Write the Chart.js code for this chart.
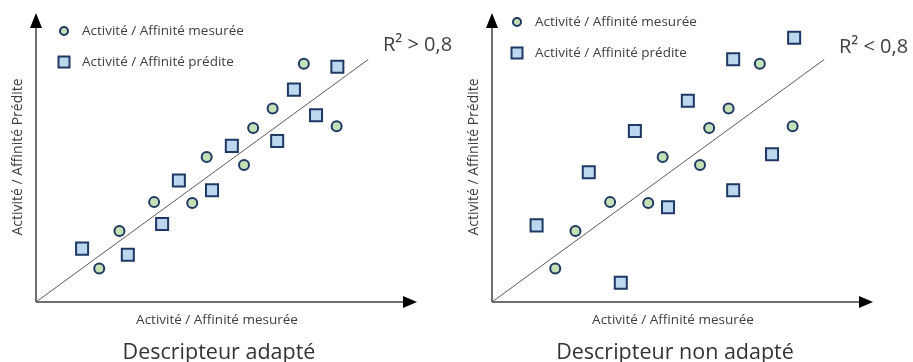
<!DOCTYPE html>
<html>
<head>
<meta charset="utf-8">
<script src="https://cdn.jsdelivr.net/npm/chart.js@4.4.0/dist/chart.umd.min.js"></script>
<style>
  body { margin: 0; background: #fff; }
  .row { display: flex; width: 913px; height: 362px; }
  .panel { position: relative; height: 362px; }
</style>
</head>
<body>
<div class="row">
  <div class="panel" style="width:456px"><canvas id="adapte"></canvas></div>
  <div class="panel" style="width:457px"><canvas id="nonAdapte"></canvas></div>
</div>
<script>
// measured activity (same in both panels)
var mesureX = [16.6, 21.9, 31.0, 41.0, 44.8, 54.6, 57.0, 62.1, 70.3, 78.9];
var mesureY = [11.7, 24.7, 34.8, 34.5, 50.5, 47.7, 60.6, 67.4, 83.0, 61.2];

// predicted activity, good descriptor
var predAdX = [12.1, 24.1, 33.1, 37.5, 46.2, 51.4, 63.3, 67.7, 73.5, 79.1];
var predAdY = [18.6, 16.5, 27.2, 42.3, 38.9, 54.4, 56.1, 74.0, 65.1, 82.0];

// predicted activity, bad descriptor
var predNonX = [11.7, 25.4, 33.8, 37.5, 46.2, 51.4, 63.3, 63.3, 73.5, 79.3];
var predNonY = [26.7, 45.2, 6.7, 59.6, 33.0, 70.1, 84.6, 38.9, 51.5, 92.1];

var droiteX = [0, 87.2];
var droiteY = [0, 84.5];

var legendeLabels = ['Activité / Affinité mesurée', 'Activité / Affinité prédite'];
var axeX = 'Activité / Affinité mesurée';
var axeY = 'Activité / Affinité Prédite';

function pts(xs, ys) {
    return xs.map(function (x, i) { return {x: x, y: ys[i]}; });
}

var police = '"Open Sans", sans-serif';
var gris = '#404040';
var vert = '#c5e0b4';
var bleu = '#bdd7ee';
var marine = '#1f3864';

function decor(r2, caption, legY, legX) {
    return {
        id: 'decor',
        beforeDatasetsDraw: function (chart) {
            var ctx = chart.ctx, a = chart.chartArea;
            ctx.save();
            ctx.strokeStyle = gris;
            ctx.fillStyle = '#000';
            ctx.lineWidth = 1.5;
            ctx.beginPath();
            ctx.moveTo(a.left, a.bottom);
            ctx.lineTo(a.right - 8, a.bottom);
            ctx.moveTo(a.left, a.bottom);
            ctx.lineTo(a.left, a.top + 8);
            ctx.stroke();
            // arrow heads
            ctx.beginPath();
            ctx.moveTo(a.right, a.bottom);
            ctx.lineTo(a.right - 14, a.bottom - 6);
            ctx.lineTo(a.right - 14, a.bottom + 6);
            ctx.closePath();
            ctx.fill();
            ctx.beginPath();
            ctx.moveTo(a.left, a.top - 2);
            ctx.lineTo(a.left - 6, a.top + 13);
            ctx.lineTo(a.left + 6, a.top + 13);
            ctx.closePath();
            ctx.fill();
            ctx.restore();
        },
        afterDraw: function (chart) {
            var ctx = chart.ctx;
            ctx.save();
            ctx.fillStyle = gris;
            ctx.textBaseline = 'middle';
            // legend
            ctx.font = '13.5px ' + police;
            ctx.textAlign = 'left';
            ctx.beginPath();
            ctx.arc(legX, legY, 4, 0, Math.PI * 2);
            ctx.fillStyle = vert; ctx.fill();
            ctx.lineWidth = 2; ctx.strokeStyle = marine; ctx.stroke();
            ctx.fillStyle = bleu;
            ctx.fillRect(legX - 5.5, legY + 31 - 5.5, 11, 11);
            ctx.strokeRect(legX - 5.5, legY + 31 - 5.5, 11, 11);
            ctx.fillStyle = gris;
            ctx.fillText(legendeLabels[0], legX + 18, legY);
            ctx.fillText(legendeLabels[1], legX + 18, legY + 31);
            // R2
            ctx.font = '20px ' + police;
            ctx.fillText(r2, 383, r2 === 'R² > 0,8' ? 45 : 47);
            // axis titles
            ctx.font = '13.5px ' + police;
            ctx.textAlign = 'center';
            ctx.fillText(axeX, 217, 320);
            ctx.save();
            ctx.translate(18, 157);
            ctx.rotate(-Math.PI / 2);
            ctx.font = '14px ' + police;
            ctx.fillText(axeY, 0, 0);
            ctx.restore();
            // caption
            ctx.font = '21.5px ' + police;
            ctx.fillStyle = '#333';
            ctx.fillText(caption, 219, 353);
            ctx.restore();
        }
    };
}

function graphe(id, predX, predY, r2, caption, legY, legX, rightPad) {
    return new Chart(document.getElementById(id), {
        data: {
            datasets: [{
                type: 'line',
                label: 'R²',
                data: pts(droiteX, droiteY),
                borderColor: '#595959',
                borderWidth: 1,
                pointRadius: 0
            }, {
                type: 'scatter',
                label: legendeLabels[0],
                data: pts(mesureX, mesureY),
                pointStyle: 'circle',
                pointRadius: 5,
                backgroundColor: vert,
                borderColor: marine,
                borderWidth: 2
            }, {
                type: 'scatter',
                label: legendeLabels[1],
                data: pts(predX, predY),
                pointStyle: 'rect',
                pointRadius: 8.5,
                backgroundColor: bleu,
                borderColor: marine,
                borderWidth: 2
            }]
        },
        options: {
            responsive: true,
            maintainAspectRatio: false,
            animation: false,
            clip: false,
            layout: { padding: { left: 36, top: 15, right: rightPad, bottom: 60 } },
            scales: {
                x: { type: 'linear', min: 0, max: 100, display: false },
                y: { type: 'linear', min: 0, max: 100, display: false }
            },
            plugins: {
                legend: { display: false },
                tooltip: { enabled: false }
            }
        },
        plugins: [decor(r2, caption, legY, legX)]
    });
}

graphe('adapte', predAdX, predAdY, 'R² > 0,8', 'Descripteur adapté', 31, 64, 39);
graphe('nonAdapte', predNonX, predNonY, 'R² < 0,8', 'Descripteur non adapté', 22, 61, 40);
</script>
</body>
</html>
